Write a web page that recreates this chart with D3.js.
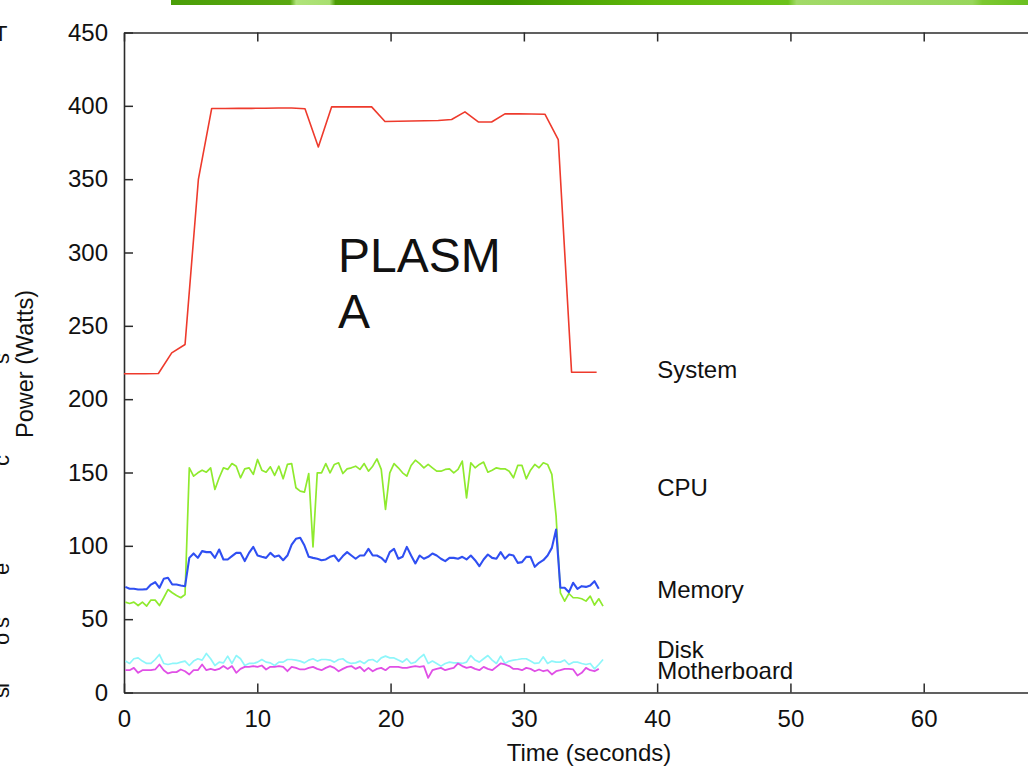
<!DOCTYPE html>
<html>
<head>
<meta charset="utf-8">
<script src="https://cdn.jsdelivr.net/npm/d3@7"></script>
<style>
  html, body { margin: 0; padding: 0; background: #fff; overflow: hidden; }
  svg { display: block; }
  text { font-family: "Liberation Sans", Arial, Helvetica, sans-serif; fill: #111; }
</style>
</head>
<body>
<svg id="chart" width="1028" height="770"></svg>
<script>
// ---- data -------------------------------------------------------------
const xTicks = [0, 10, 20, 30, 40, 50, 60, 70];
const yTicks = [0, 50, 100, 150, 200, 250, 300, 350, 400, 450];

// whole-system power, one reading per second
const systemTime = [0, 1.58, 2.58, 3.58, 4.58, 5.58, 6.58, 7.58, 8.58, 9.58, 10.58, 11.58,
  12.58, 13.58, 14.58, 15.58, 16.58, 17.58, 18.58, 19.58, 20.58, 21.58, 22.58, 23.58,
  24.58, 25.58, 26.58, 27.58, 28.58, 29.58, 30.58, 31.58, 32.58, 33.58, 34.58, 35.46];
const systemPower = [217.3, 217.3, 217.5, 231.6, 237.3, 349.8, 398.2, 398.2, 398.3, 398.3,
  398.4, 398.5, 398.5, 398.0, 372.0, 399.3, 399.3, 399.3, 399.3, 389.3, 389.5, 389.7,
  389.8, 390.0, 390.7, 395.9, 389.0, 389.0, 394.5, 394.5, 394.4, 394.3, 377.0, 218.4,
  218.4, 218.4];

// component sensors, sampled every 0.32 s starting at 0.1 s
const sampleStart = 0.1;
const sampleStep = 0.32;

const cpuPower = [61.6, 60.7, 61.6, 59.3, 61.6, 58.9, 63.0, 63.0, 59.3, 64.6, 70.2, 68.0,
  66.1, 64.6, 66.8, 153.2, 147.5, 149.8, 151.6, 150.2, 153.2, 138.4, 146.4, 153.2, 152.1,
  156.1, 154.3, 146.4, 152.5, 153.2, 148.7, 158.9, 151.6, 150.2, 153.9, 148.0, 154.3,
  145.7, 155.5, 156.1, 139.6, 137.3, 136.6, 149.3, 99.3, 149.8, 149.8, 156.1, 149.8,
  155.5, 156.6, 149.3, 152.5, 153.2, 154.3, 152.1, 156.1, 150.9, 154.3, 159.3, 152.1,
  124.8, 149.8, 156.1, 153.2, 149.8, 147.5, 154.8, 158.4, 156.1, 153.2, 155.5, 153.2,
  150.9, 150.9, 152.1, 152.5, 149.8, 152.1, 157.8, 132.7, 156.6, 153.2, 155.5, 157.1,
  150.2, 151.6, 153.2, 152.5, 152.5, 150.9, 146.4, 154.8, 154.8, 145.7, 151.6, 155.5,
  153.2, 156.6, 155.5, 148.7, 120.2, 68.0, 62.3, 67.5, 64.6, 64.6, 63.9, 62.3, 65.7,
  59.6, 63.9, 58.9];

const memoryPower = [72.0, 70.7, 70.7, 70.2, 70.2, 70.5, 73.6, 75.2, 71.4, 77.5, 78.2, 73.6,
  73.6, 73.0, 72.5, 91.8, 94.8, 91.8, 96.4, 95.7, 95.7, 91.8, 97.5, 90.7, 90.7, 93.0,
  95.2, 95.2, 89.6, 95.2, 99.3, 93.4, 92.5, 91.8, 95.2, 92.5, 93.4, 90.2, 93.4, 100.9,
  104.8, 105.5, 100.2, 92.5, 91.8, 91.2, 90.2, 90.7, 92.5, 93.4, 89.6, 93.0, 95.7, 93.4,
  91.2, 93.4, 93.4, 97.9, 93.4, 93.4, 91.8, 88.9, 95.7, 97.9, 91.2, 92.5, 99.3, 93.4,
  88.0, 93.4, 91.2, 92.5, 94.8, 93.4, 91.2, 89.6, 91.8, 91.8, 91.2, 92.5, 90.7, 93.4,
  90.2, 86.1, 90.7, 94.1, 91.8, 91.2, 95.7, 91.2, 94.1, 93.4, 88.4, 88.9, 92.5, 92.5,
  85.7, 88.4, 90.2, 93.4, 98.6, 111.1, 71.4, 71.4, 68.4, 74.8, 70.7, 72.5, 72.0, 73.0,
  75.9, 70.7];

const diskPower = [21.4, 19.8, 23.0, 23.6, 21.4, 19.8, 19.8, 22.5, 25.9, 19.8, 19.1, 19.8,
  19.8, 20.7, 21.4, 18.4, 21.4, 23.0, 22.1, 26.6, 23.0, 18.4, 20.7, 20.2, 24.8, 19.8,
  25.2, 23.0, 18.4, 19.8, 19.8, 20.7, 22.5, 20.7, 20.2, 18.4, 20.7, 20.7, 22.5, 22.5,
  22.1, 21.4, 20.2, 22.1, 23.0, 21.4, 22.5, 22.5, 22.1, 20.7, 22.5, 23.0, 20.7, 19.8,
  20.2, 21.4, 19.8, 22.1, 22.5, 20.7, 23.6, 24.8, 23.6, 23.6, 22.1, 20.7, 23.0, 19.8,
  20.7, 23.6, 25.9, 19.8, 21.4, 19.8, 18.0, 19.8, 20.7, 20.2, 20.2, 19.8, 20.7, 25.2,
  22.1, 20.7, 23.0, 25.2, 22.1, 19.8, 24.8, 19.8, 21.4, 22.1, 22.5, 23.0, 23.0, 21.4,
  19.8, 20.2, 24.3, 19.8, 21.4, 20.7, 20.7, 22.1, 19.1, 20.7, 20.7, 19.8, 19.1, 19.8,
  16.1, 19.1, 22.5];

const motherboardPower = [15.2, 15.2, 16.8, 13.4, 15.2, 15.2, 15.2, 15.7, 19.1, 15.2, 13.0,
  13.9, 13.9, 15.7, 14.5, 12.3, 15.2, 15.2, 19.1, 15.2, 16.1, 15.2, 16.1, 18.0, 16.1,
  18.0, 13.4, 16.1, 17.5, 17.5, 18.0, 17.5, 18.4, 15.7, 17.5, 17.5, 18.0, 17.5, 14.5,
  17.5, 16.8, 15.7, 15.7, 16.8, 17.5, 16.1, 15.2, 16.8, 18.0, 16.8, 14.5, 16.1, 17.5,
  18.0, 16.1, 17.5, 14.5, 16.8, 14.5, 16.1, 16.8, 15.2, 17.5, 17.5, 17.5, 16.8, 16.8,
  17.5, 18.0, 17.5, 18.0, 10.0, 15.2, 16.1, 16.8, 15.2, 16.1, 16.8, 19.8, 18.0, 16.8,
  17.5, 16.1, 15.2, 17.5, 16.1, 15.2, 17.5, 19.8, 19.1, 18.0, 16.1, 16.1, 15.2, 16.8,
  16.1, 14.5, 15.7, 14.5, 15.2, 12.3, 14.5, 15.2, 16.1, 16.1, 15.7, 11.6, 13.4, 16.8,
  15.2, 14.5, 16.1];

const seriesNames = ["System", "CPU", "Memory", "Disk", "Motherboard"];
const seriesColors = ["#ee3a2c", "#8fea2e", "#2f4ff2", "#8ef6fa", "#e050e6"];
const seriesWidths = [1.6, 1.7, 2.1, 1.7, 1.8];
const labelLevels = [220, 139.5, 70, 29.4, 14.7];

// ---- layout -----------------------------------------------------------
const svg = d3.select("#chart");
const x = d3.scaleLinear().domain([0, 70]).range([124, 1057]);
const y = d3.scaleLinear().domain([0, 450]).range([692.5, 32.5]);

// green strip along the top edge of the slide
const defs = svg.append("defs");
const grad = defs.append("linearGradient").attr("id", "strip")
  .attr("x1", "0%").attr("x2", "100%").attr("y1", "0%").attr("y2", "0%");
[[0, "#4a9e08"], [0.139, "#5aa810"], [0.146, "#b0e37a"], [0.185, "#a8df70"],
 [0.192, "#4c9c04"], [0.39, "#3f9600"], [0.564, "#5fb70a"], [0.72, "#6cc21a"],
 [0.73, "#a2da68"], [0.935, "#98d65c"], [0.947, "#7cc830"], [1, "#6abf20"]]
  .forEach(([o, c]) => grad.append("stop").attr("offset", o).attr("stop-color", c));
svg.append("rect").attr("x", 171).attr("y", 0).attr("width", 857).attr("height", 5)
  .attr("fill", "url(#strip)");

// clipped slide text along the left border
const edge = svg.append("g").style("font-size", "22px");
edge.append("text").attr("x", -6).attr("y", 41).text("T");
[["s", 364], ["c", 466], ["e", 575], ["s", 628], ["o", 645], ["l", 688], ["s", 698]]
  .forEach(([ch, yy]) => {
    edge.append("text").attr("transform", `translate(9,${yy}) rotate(-90)`).text(ch);
  });

// ---- axes -------------------------------------------------------------
const axisColor = "#2b2b2b";
function styleAxis(g) {
  g.select(".domain").attr("stroke", axisColor).attr("stroke-width", 1.6);
  g.selectAll(".tick line").attr("stroke", axisColor).attr("stroke-width", 1.5);
  g.selectAll(".tick text").attr("fill", "#111").style("font-size", "24px")
    .style("font-family", "'Liberation Sans', Arial, Helvetica, sans-serif");
}

svg.append("g").attr("transform", `translate(0,${y(450)})`)
  .call(d3.axisTop(x).tickValues(xTicks).tickSize(-9).tickSizeOuter(0).tickFormat(""))
  .call(styleAxis);

svg.append("g").attr("transform", `translate(0,${y(0)})`)
  .call(d3.axisBottom(x).tickValues(xTicks).tickSize(-9).tickSizeOuter(0).tickPadding(17))
  .call(styleAxis);

svg.append("g").attr("transform", `translate(${x(0)},0)`)
  .call(d3.axisLeft(y).tickValues(yTicks).tickSize(-9).tickSizeOuter(0).tickPadding(16))
  .call(styleAxis);

svg.append("text").attr("x", 589).attr("y", 761).attr("text-anchor", "middle")
  .style("font-size", "24px").text("Time (seconds)");

svg.append("text").attr("transform", "translate(33,364) rotate(-90)")
  .attr("text-anchor", "middle").style("font-size", "23.5px").text("Power (Watts)");

// ---- series -----------------------------------------------------------
const sampled = vals => vals.map((v, i) => ({ t: sampleStart + i * sampleStep, v }));
const seriesData = [
  systemPower.map((v, i) => ({ t: systemTime[i], v })),
  sampled(cpuPower),
  sampled(memoryPower),
  sampled(diskPower),
  sampled(motherboardPower)
];

const line = d3.line().x(d => x(d.t)).y(d => y(d.v));
seriesData.forEach((data, k) => {
  svg.append("path").datum(data)
    .attr("fill", "none")
    .attr("stroke", seriesColors[k])
    .attr("stroke-width", seriesWidths[k])
    .attr("stroke-linejoin", "round")
    .attr("d", line);
});

// series names placed beside the curves
svg.append("g").selectAll("text").data(seriesNames).join("text")
  .attr("x", x(40))
  .attr("y", (d, i) => y(labelLevels[i]) + 8.5)
  .style("font-size", "24px")
  .text(d => d);

// annotation overlay
const note = svg.append("g").style("font-size", "48px");
note.append("text").attr("x", 338).attr("y", 272).text("PLASM");
note.append("text").attr("x", 338).attr("y", 328).text("A");
</script>
</body>
</html>
